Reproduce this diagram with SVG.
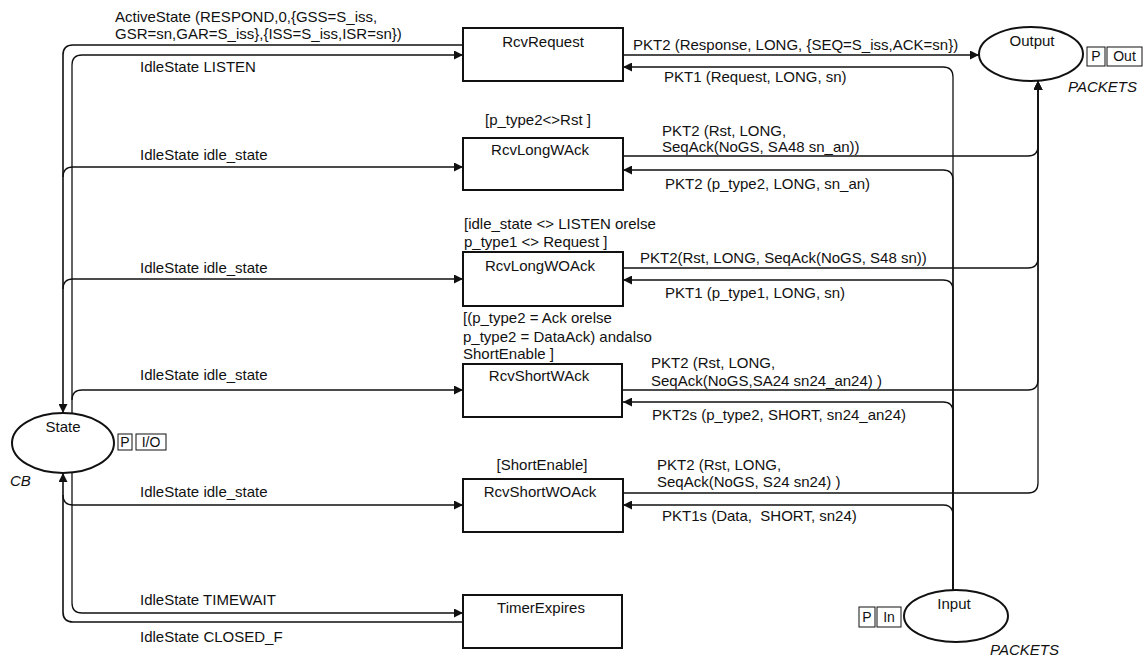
<svg xmlns="http://www.w3.org/2000/svg" width="1143" height="657" viewBox="0 0 1143 657">
  <style>
    text { font-family: "Liberation Sans", Arial, sans-serif; font-size: 15px; fill: #111; }
    .c { text-anchor: middle; }
    .it { font-style: italic; }
    .tag { font-size: 14px; }
    .trans { fill: #fff; stroke: #111; stroke-width: 2; }
    .place { fill: #fff; stroke: #111; stroke-width: 2; }
    .box { fill: #fff; stroke: #111; stroke-width: 1; }
    .arc { fill: none; stroke: #111; stroke-width: 1.3; }
    .arr { marker-end: url(#ah); }
  </style>
  <defs>
    <marker id="ah" viewBox="0 0 10 10" refX="10" refY="5" markerWidth="10" markerHeight="9" markerUnits="userSpaceOnUse" orient="auto">
      <path d="M0,0 L10,5 L0,10 z" fill="#111"/>
    </marker>
  </defs>
  <rect width="1143" height="657" fill="#fff"/>

  <!-- arcs -->
  <g id="arcs">
    <!-- State side -->
    <path class="arc arr" d="M463,45 H73 Q63,45 63,55 V413" style="stroke-width:1.6"/>
    <path class="arc arr" d="M72,413 V65 Q72,55 82,55 H463"/>
    <path class="arc arr" d="M63,177 Q63,167 73,167 H463"/>
    <path class="arc arr" d="M63,289 Q63,279 73,279 H463"/>
    <path class="arc arr" d="M72,400 Q72,390 82,390 H463"/>
    <path class="arc arr" d="M63,495 Q63,505 73,505 H463"/>
    <path class="arc arr" d="M72,473 V603 Q72,613 82,613 H463"/>
    <path class="arc arr" d="M463,622 H73 Q63,622 63,612 V473" style="stroke-width:1.6"/>
    <!-- Output side -->
    <path class="arc arr" d="M623,55 H979"/>
    <path class="arc arr" d="M623,156 H1028 Q1038,156 1038,146 V81"/>
    <path class="arc arr" d="M623,268 H1028 Q1038,268 1038,258 V81"/>
    <path class="arc arr" d="M623,390 H1028 Q1038,390 1038,380 V81"/>
    <path class="arc arr" d="M623,493 H1028 Q1038,493 1038,483 V81"/>
    <!-- Input side -->
    <path class="arc arr" d="M953,590 V77 Q953,67 943,67 H623"/>
    <path class="arc arr" d="M953,590 V180 Q953,170 943,170 H623"/>
    <path class="arc arr" d="M953,590 V290 Q953,280 943,280 H623"/>
    <path class="arc arr" d="M953,590 V412 Q953,402 943,402 H623"/>
    <path class="arc arr" d="M953,590 V515 Q953,505 943,505 H623"/>
  </g>

  <!-- arc inscriptions -->
  <g id="inscriptions">
    <text x="115" y="22">ActiveState (RESPOND,0,{GSS=S_iss,</text>
    <text x="115" y="39">GSR=sn,GAR=S_iss},{ISS=S_iss,ISR=sn})</text>
    <text x="140" y="72">IdleState LISTEN</text>
    <text x="140" y="160">IdleState idle_state</text>
    <text x="140" y="273">IdleState idle_state</text>
    <text x="140" y="380">IdleState idle_state</text>
    <text x="140" y="497">IdleState idle_state</text>
    <text x="140" y="605">IdleState TIMEWAIT</text>
    <text x="140" y="642">IdleState CLOSED_F</text>

    <text x="633" y="50">PKT2 (Response, LONG, {SEQ=S_iss,ACK=sn})</text>
    <text x="664" y="82">PKT1 (Request, LONG, sn)</text>
    <text x="662" y="136">PKT2 (Rst, LONG,</text>
    <text x="662" y="152">SeqAck(NoGS, SA48 sn_an))</text>
    <text x="665" y="189">PKT2 (p_type2, LONG, sn_an)</text>
    <text x="640" y="263">PKT2(Rst, LONG, SeqAck(NoGS, S48 sn))</text>
    <text x="665" y="298">PKT1 (p_type1, LONG, sn)</text>
    <text x="651" y="368">PKT2 (Rst, LONG,</text>
    <text x="651" y="386">SeqAck(NoGS,SA24 sn24_an24) )</text>
    <text x="652" y="420">PKT2s (p_type2, SHORT, sn24_an24)</text>
    <text x="657" y="470">PKT2 (Rst, LONG,</text>
    <text x="657" y="487">SeqAck(NoGS, S24 sn24) )</text>
    <text x="662" y="521" xml:space="preserve">PKT1s (Data,  SHORT, sn24)</text>
  </g>

  <!-- places -->
  <g id="place-State">
    <ellipse class="place" cx="63" cy="443" rx="51" ry="30"/>
    <text class="c" x="63" y="432">State</text>
    <rect class="box" x="118" y="434" width="14" height="16"/>
    <text class="tag c" x="125" y="447">P</text>
    <rect class="box" x="136" y="434" width="30" height="16"/>
    <text class="tag c" x="151" y="447">I/O</text>
    <text class="it" x="10" y="486">CB</text>
  </g>
  <g id="place-Output">
    <ellipse class="place" cx="1031" cy="54" rx="52" ry="27"/>
    <text class="c" x="1032" y="46">Output</text>
    <rect class="box" x="1087" y="47" width="18" height="19"/>
    <text class="tag c" x="1096" y="61">P</text>
    <rect class="box" x="1107" y="47" width="35" height="19"/>
    <text class="tag c" x="1124.5" y="61">Out</text>
    <text class="it" x="1068" y="92">PACKETS</text>
  </g>
  <g id="place-Input">
    <ellipse class="place" cx="956" cy="616" rx="52" ry="26"/>
    <text class="c" x="954" y="609">Input</text>
    <rect class="box" x="859" y="607" width="16" height="20"/>
    <text class="tag c" x="867" y="622">P</text>
    <rect class="box" x="877" y="607" width="24" height="20"/>
    <text class="tag c" x="889" y="622">In</text>
    <text class="it" x="990" y="655">PACKETS</text>
  </g>

  <!-- transitions -->
  <g id="trans-RcvRequest">
    <rect class="trans" x="463" y="28" width="160" height="53"/>
    <text class="c" x="543" y="47">RcvRequest</text>
  </g>
  <g id="trans-RcvLongWAck">
    <text x="485" y="125">[p_type2&lt;&gt;Rst ]</text>
    <rect class="trans" x="463" y="138" width="160" height="52"/>
    <text class="c" x="540" y="155">RcvLongWAck</text>
  </g>
  <g id="trans-RcvLongWOAck">
    <text x="464" y="229">[idle_state &lt;&gt; LISTEN orelse</text>
    <text x="464" y="247">p_type1 &lt;&gt; Request ]</text>
    <rect class="trans" x="463" y="252" width="160" height="54"/>
    <text class="c" x="540" y="271">RcvLongWOAck</text>
  </g>
  <g id="trans-RcvShortWAck">
    <text x="463" y="323">[(p_type2 = Ack orelse</text>
    <text x="463" y="342">p_type2 = DataAck) andalso</text>
    <text x="463" y="359">ShortEnable ]</text>
    <rect class="trans" x="463" y="364" width="159" height="53"/>
    <text class="c" x="539" y="381">RcvShortWAck</text>
  </g>
  <g id="trans-RcvShortWOAck">
    <text class="c" x="542" y="470">[ShortEnable]</text>
    <rect class="trans" x="463" y="479" width="160" height="53"/>
    <text class="c" x="540" y="497">RcvShortWOAck</text>
  </g>
  <g id="trans-TimerExpires">
    <rect class="trans" x="463" y="595" width="159" height="53"/>
    <text class="c" x="541" y="613">TimerExpires</text>
  </g>
</svg>
